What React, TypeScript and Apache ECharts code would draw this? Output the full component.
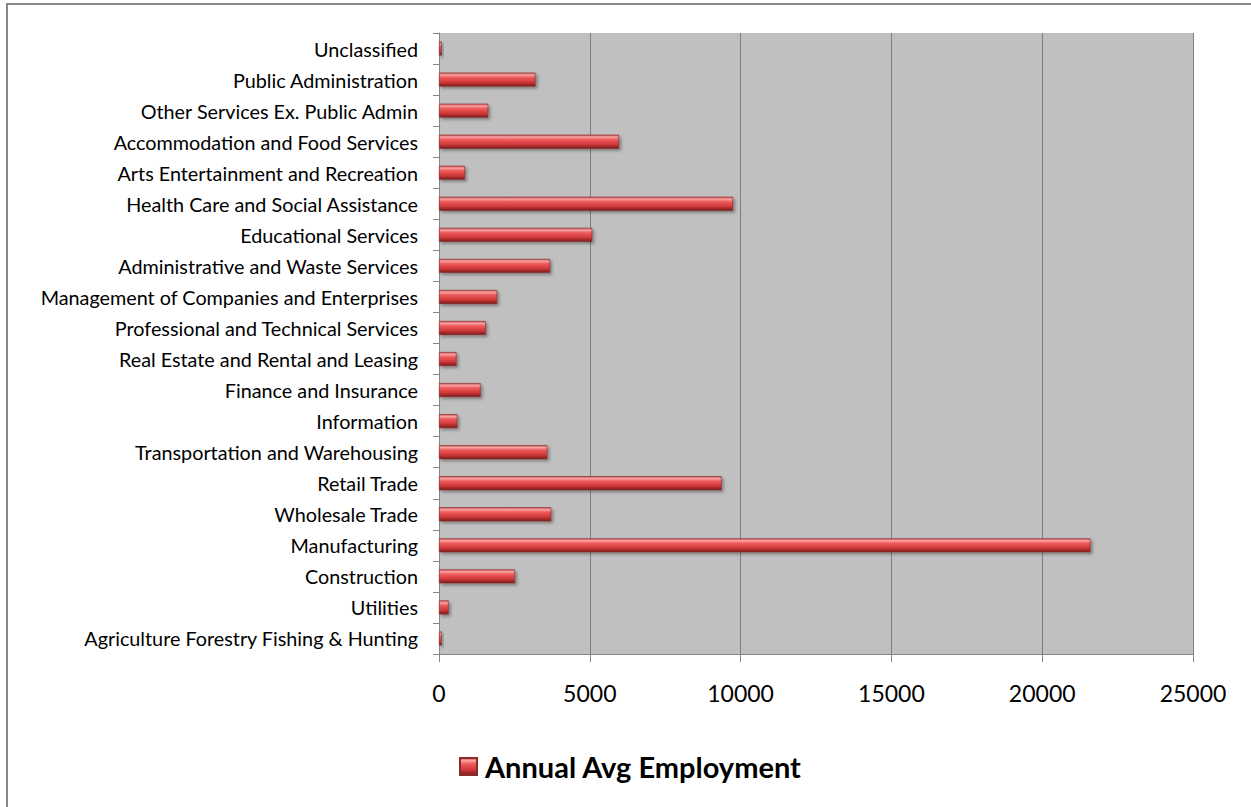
import React, { useEffect, useRef } from "react";
import * as echarts from "echarts";

const categories = [
  "Agriculture Forestry Fishing & Hunting",
  "Utilities",
  "Construction",
  "Manufacturing",
  "Wholesale Trade",
  "Retail Trade",
  "Transportation and Warehousing",
  "Information",
  "Finance and Insurance",
  "Real Estate and Rental and Leasing",
  "Professional and Technical Services",
  "Management of Companies and Enterprises",
  "Administrative and Waste Services",
  "Educational Services",
  "Health Care and Social Assistance",
  "Arts Entertainment and Recreation",
  "Accommodation and Food Services",
  "Other Services Ex. Public Admin",
  "Public Administration",
  "Unclassified",
];

const employment = [
  90, 320, 2520, 21600, 3720, 9370, 3590, 610, 1380, 580, 1550, 1930, 3680,
  5080, 9750, 860, 5970, 1630, 3200, 90,
];

const seriesName = "Annual Avg Employment";
const xTicks = [0, 5000, 10000, 15000, 20000, 25000];

export default function App() {
  const ref = useRef<HTMLDivElement>(null);

  useEffect(() => {
    if (!ref.current) return;
    const chart = echarts.init(ref.current, undefined, { renderer: "svg" });
    const barGradient = new echarts.graphic.LinearGradient(0, 0, 0, 1, [
      { offset: 0, color: "#c95050" },
      { offset: 0.15, color: "#f7a2a2" },
      { offset: 0.35, color: "#ee5a5a" },
      { offset: 0.7, color: "#cf3838" },
      { offset: 1, color: "#7a1c1c" },
    ]);
    chart.setOption({
      animation: false,
      backgroundColor: "#ffffff",
      textStyle: { fontFamily: "Lato" },
      graphic: [
        {
          type: "rect",
          shape: { x: 7, y: 4, width: 1400, height: 1000 },
          style: { fill: "none", stroke: "#878787", lineWidth: 2 },
          silent: true,
          z: 100,
        },
      ],
      grid: {
        left: 439,
        right: 58,
        top: 33,
        bottom: 153,
        show: true,
        backgroundColor: "#c0c0c0",
        borderWidth: 0,
      },
      legend: {
        left: 454,
        top: 747,
        itemWidth: 17,
        itemHeight: 17,
        icon: "rect",
        data: [seriesName],
        textStyle: {
          fontFamily: "Lato",
          fontSize: 29,
          fontWeight: "bold",
          color: "#000000",
          padding: [0, 0, 0, 3],
        },
      },
      xAxis: {
        type: "value",
        min: 0,
        max: 25000,
        interval: 5000,
        axisLine: { show: true, lineStyle: { color: "#868686", width: 1 } },
        axisTick: { show: true, length: 8, lineStyle: { color: "#868686" } },
        axisLabel: {
          margin: 27,
          fontSize: 23,
          color: "#000000",
          fontFamily: "Lato",
          formatter: (v: number) => (xTicks.includes(v) ? String(v) : ""),
        },
        splitLine: { show: true, lineStyle: { color: "#7f7f7f", width: 1 } },
      },
      yAxis: {
        type: "category",
        data: categories,
        boundaryGap: true,
        axisLine: { show: true, lineStyle: { color: "#868686", width: 1 } },
        axisTick: { show: true, length: 6, lineStyle: { color: "#868686" } },
        axisLabel: {
          margin: 21,
          fontSize: 19.8,
          color: "#000000",
          fontFamily: "Lato",
        },
        splitLine: { show: false },
      },
      series: [
        {
          name: seriesName,
          type: "bar",
          data: employment,
          barWidth: 14,
          itemStyle: {
            color: barGradient,
            borderColor: "#8a2a2a",
            borderWidth: 0.6,
            shadowColor: "rgba(0,0,0,0.35)",
            shadowBlur: 3,
            shadowOffsetX: 2,
            shadowOffsetY: 2,
          },
        },
      ],
    });
    return () => chart.dispose();
  }, []);

  return (
    <div
      style={{
        position: "absolute",
        left: 0,
        top: 0,
        width: 1251,
        height: 807,
        overflow: "hidden",
        background: "#ffffff",
      }}
    >
      <div ref={ref} style={{ width: 1251, height: 807 }} />
    </div>
  );
}
